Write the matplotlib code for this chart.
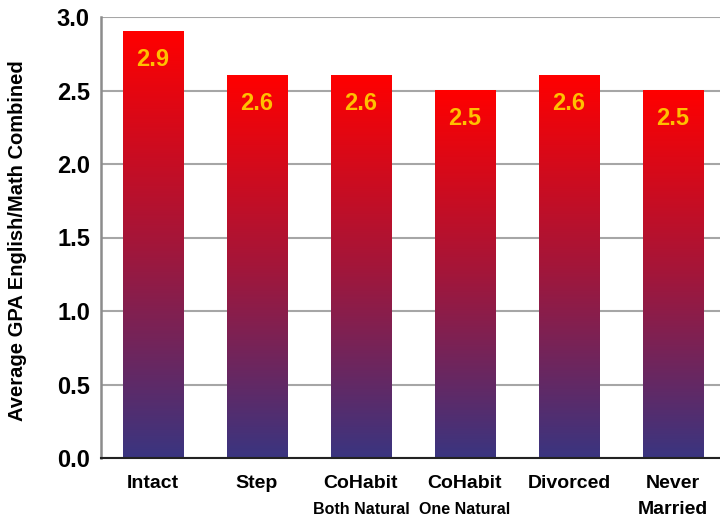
import matplotlib
matplotlib.use("Agg")
import matplotlib.pyplot as plt
import matplotlib.transforms as mtransforms
import numpy as np
from matplotlib.colors import LinearSegmentedColormap

# Family structure groups and their average GPA
groups = ["Intact", "Step", "CoHabit", "CoHabit", "Divorced", "Never"]
subtitles = ["", "", "Both Natural", "One Natural", "", "Married"]
gpa = [2.9, 2.6, 2.6, 2.5, 2.6, 2.5]
yticks = [0.0, 0.5, 1.0, 1.5, 2.0, 2.5, 3.0]

plt.rcParams["font.family"] = ["Liberation Sans", "DejaVu Sans"]
plt.rcParams["font.weight"] = "bold"

fig = plt.figure(figsize=(7.2, 5.22), dpi=100)
ax = fig.add_axes([101 / 720, 64 / 522, 624 / 720, 441 / 522])

x = np.arange(len(gpa))
bars = ax.bar(x, gpa, width=0.58, color="none", zorder=2)

# vertical red-to-indigo gradient, stretched over each bar
cmap = LinearSegmentedColormap.from_list("redblue", ["#3a3580", "#a3163a", "#ff0000"])
grad = np.linspace(0, 1, 256).reshape(-1, 1)
for b in bars:
    x0, w, h = b.get_x(), b.get_width(), b.get_height()
    ax.imshow(grad, cmap=cmap, origin="lower", aspect="auto",
              extent=(x0, x0 + w, 0, h), zorder=2)

for xi, v in zip(x, gpa):
    ax.text(xi, v - 0.19, f"{v:.1f}", ha="center", va="center",
            color="#ffc000", fontsize=17, fontweight="bold", zorder=3)

ax.set_xlim(-0.5, len(gpa) - 0.5)
ax.set_ylim(0, 3.0)
ax.set_yticks(yticks)
ax.set_yticklabels([f"{t:.1f}" for t in yticks], fontsize=17, fontweight="bold")
ax.tick_params(axis="y", length=0, pad=8)
ax.set_xticks([])

ax.grid(axis="y", color="#a6a6a6", linewidth=1.5, zorder=0)
ax.set_axisbelow(True)
for side in ["top", "right"]:
    ax.spines[side].set_visible(False)
ax.spines["left"].set_color("#8c8c8c")
ax.spines["left"].set_linewidth(1.8)
ax.spines["bottom"].set_color("#222222")
ax.spines["bottom"].set_linewidth(1.5)

# category labels below the axis, with smaller sub-captions
trans = mtransforms.blended_transform_factory(ax.transData, fig.transFigure)
for xi, g, s in zip(x, groups, subtitles):
    ax.text(xi, 1 - 483 / 522, g, transform=trans, ha="center", va="center",
            fontsize=14, fontweight="bold")
    if s:
        size = 14 if s == "Married" else 11.5
        ax.text(xi, 1 - 510 / 522, s, transform=trans, ha="center", va="center",
                fontsize=size, fontweight="bold")

fig.text(18 / 720, 1 - 241 / 522, "Average GPA English/Math Combined", rotation=90,
         ha="center", va="center", fontsize=14.5, fontweight="bold")

fig.savefig("out.png", dpi=100)
